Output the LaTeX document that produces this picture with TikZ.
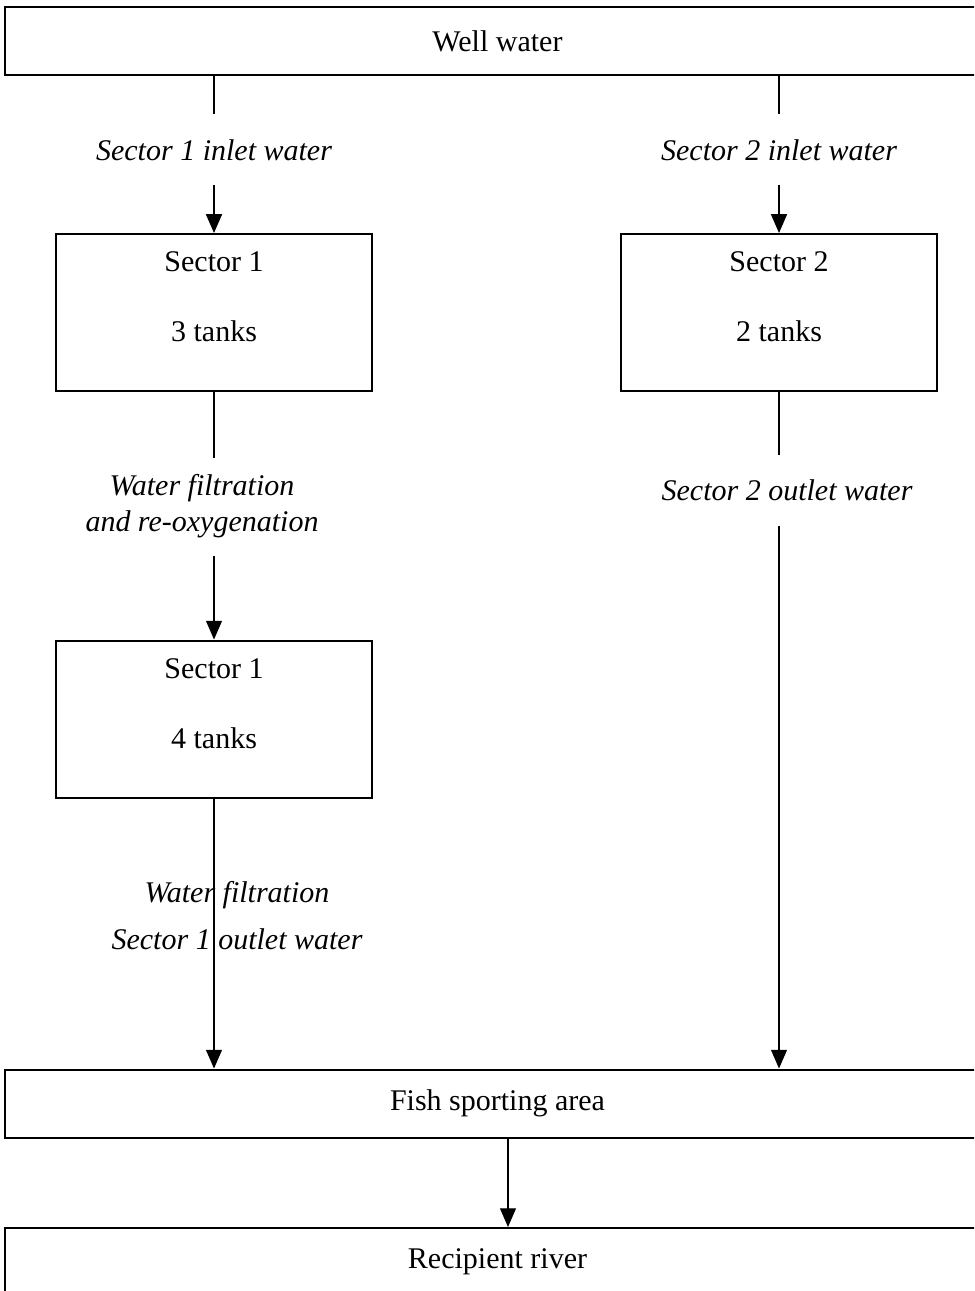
\documentclass[12pt,tikz,border=0pt]{standalone}
\usepackage{fontspec}
\setmainfont{Liberation Serif}
\usepackage{tikz}
\usetikzlibrary{calc}
\usetikzlibrary{positioning}
\usetikzlibrary{arrows.meta}
\tikzstyle{arrow} = [line width=0.5pt,-{Triangle[width=6.4pt,length=7.5pt]}]
\tikzstyle{pipe} = [line width=0.5pt]
\tikzstyle{widebox} = [draw,line width=0.8pt,minimum width=394pt,minimum height=27.2pt,inner sep=0pt]
\tikzstyle{sectorbox} = [draw,line width=0.8pt,minimum width=126.4pt,minimum height=62.8pt,inner sep=0pt]
\tikzstyle{flow} = [font=\itshape,inner sep=0pt,align=center]

\begin{document}
\begin{tikzpicture}[x=0.4pt,y=-0.4pt]
	\useasboundingbox (0,0) rectangle (974,1291);
	\clip (0,0) rectangle (974,1291);
	\node[widebox] (well) at (497.5,41) {Well water};
	\node[sectorbox] (sec1a) at (214,312.5) {};
	\node[sectorbox] (sec2) at (779,312.5) {};
	\node[sectorbox] (sec1b) at (214,719) {};
	\node[align=center] (sec1a text) at ([yshift=6.2pt]sec1a.center) {Sector 1\\[13.5pt]3 tanks};
	\node[align=center] (sec2 text) at ([yshift=6.2pt]sec2.center) {Sector 2\\[13.5pt]2 tanks};
	\node[align=center] (sec1b text) at ([yshift=6.2pt]sec1b.center) {Sector 1\\[13.5pt]4 tanks};
	\node[widebox] (fish) at (497.5,1103.5) {Fish sporting area};
	\node[widebox] (river) at (497.5,1262) {Recipient river};
	\node[flow,minimum height=28pt] (in1) at (214,150) {Sector 1 inlet water};
	\node[flow,minimum height=28pt] (in2) at (779,150) {Sector 2 inlet water};
	\node[flow,minimum height=38.8pt] (filt) at (202,506.5) {Water filtration\\and re-oxygenation};
	\node[flow,minimum height=28pt] (out2) at (787,490) {Sector 2 outlet water};
	\node[flow] (out1) at (237,916) {Water filtration\\[4.3pt]Sector 1 outlet water};
	\coordinate (drain) at (508,1137);
	\draw[pipe] (well.south -| in1) -- (in1.north);
	\draw[arrow] (in1.south) -- (sec1a.north);
	\draw[pipe] (well.south -| in2) -- (in2.north);
	\draw[arrow] (in2.south) -- (sec2.north);
	\draw[pipe] (sec1a.south) -- (sec1a.south |- filt.north);
	\draw[arrow] (sec1a.south |- filt.south) -- (sec1b.north);
	\draw[arrow] (sec1b.south) -- (sec1b.south |- fish.north);
	\draw[pipe] (sec2.south) -- (sec2.south |- out2.north);
	\draw[arrow] (sec2.south |- out2.south) -- (sec2.south |- fish.north);
	\draw[arrow] (drain) -- (drain |- river.north);
\end{tikzpicture}
\end{document}
